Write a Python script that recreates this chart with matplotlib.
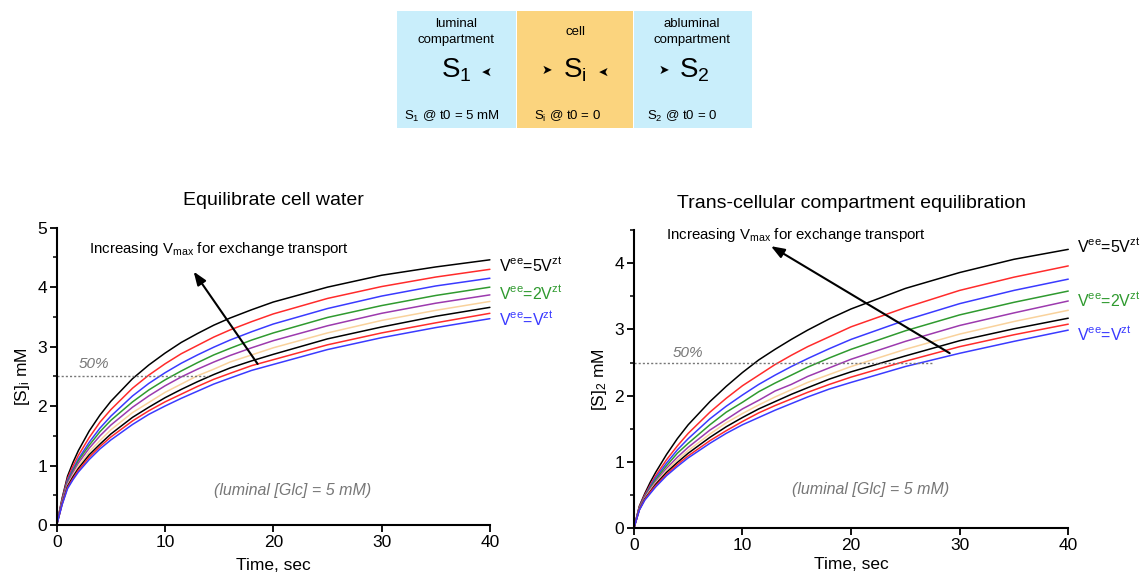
import matplotlib

matplotlib.use("Agg")
import matplotlib.pyplot as plt
from matplotlib.patches import Rectangle

plt.rcParams["font.family"] = ["Liberation Sans", "DejaVu Sans"]
plt.rcParams["mathtext.fontset"] = "custom"
plt.rcParams["mathtext.rm"] = "Liberation Sans"
plt.rcParams["mathtext.it"] = "Liberation Sans:italic"

# time points (sec)
time_s = [0, 0.5, 1, 1.5, 2, 3, 4, 5, 7, 8.5, 10, 11.5, 13, 14.5, 16, 18, 20, 25, 30, 35, 40]

# left panel: [S]i (mM), curves listed top to bottom
cell_curves = [
    [0, 0.45, 0.82, 1.05, 1.25, 1.58, 1.85, 2.08, 2.46, 2.69, 2.89, 3.07, 3.22, 3.36, 3.48, 3.62, 3.75, 4.00, 4.20, 4.34, 4.46],
    [0, 0.43, 0.78, 0.99, 1.17, 1.47, 1.73, 1.94, 2.30, 2.52, 2.71, 2.88, 3.02, 3.16, 3.28, 3.42, 3.55, 3.81, 4.01, 4.17, 4.30],
    [0, 0.41, 0.75, 0.94, 1.11, 1.39, 1.63, 1.83, 2.17, 2.38, 2.56, 2.72, 2.86, 2.99, 3.11, 3.25, 3.38, 3.64, 3.85, 4.02, 4.15],
    [0, 0.40, 0.72, 0.91, 1.08, 1.34, 1.57, 1.76, 2.07, 2.27, 2.44, 2.59, 2.73, 2.86, 2.97, 3.11, 3.23, 3.49, 3.69, 3.86, 4.00],
    [0, 0.39, 0.70, 0.88, 1.04, 1.29, 1.50, 1.68, 1.98, 2.17, 2.34, 2.49, 2.62, 2.74, 2.85, 2.98, 3.10, 3.35, 3.56, 3.73, 3.87],
    [0, 0.37, 0.67, 0.84, 0.99, 1.23, 1.42, 1.60, 1.89, 2.06, 2.23, 2.37, 2.51, 2.62, 2.74, 2.86, 2.98, 3.23, 3.44, 3.61, 3.76],
    [0, 0.36, 0.65, 0.81, 0.95, 1.18, 1.36, 1.53, 1.81, 1.98, 2.14, 2.28, 2.41, 2.53, 2.64, 2.76, 2.87, 3.13, 3.33, 3.51, 3.66],
    [0, 0.35, 0.63, 0.78, 0.92, 1.14, 1.32, 1.48, 1.75, 1.92, 2.07, 2.20, 2.33, 2.45, 2.55, 2.68, 2.78, 3.03, 3.23, 3.40, 3.56],
    [0, 0.34, 0.61, 0.76, 0.89, 1.10, 1.28, 1.43, 1.69, 1.86, 2.00, 2.13, 2.25, 2.37, 2.47, 2.60, 2.70, 2.95, 3.15, 3.32, 3.47],
]

# right panel: [S]2 (mM), curves listed top to bottom
trans_curves = [
    [0, 0.33, 0.52, 0.69, 0.84, 1.11, 1.35, 1.56, 1.91, 2.14, 2.35, 2.54, 2.70, 2.85, 2.99, 3.16, 3.31, 3.62, 3.86, 4.06, 4.21],
    [0, 0.32, 0.50, 0.65, 0.79, 1.03, 1.24, 1.43, 1.75, 1.96, 2.15, 2.31, 2.47, 2.61, 2.74, 2.89, 3.04, 3.33, 3.59, 3.79, 3.96],
    [0, 0.31, 0.48, 0.63, 0.76, 0.98, 1.18, 1.35, 1.65, 1.84, 2.01, 2.17, 2.31, 2.44, 2.56, 2.71, 2.85, 3.14, 3.39, 3.59, 3.76],
    [0, 0.30, 0.47, 0.61, 0.73, 0.94, 1.13, 1.28, 1.56, 1.75, 1.90, 2.06, 2.19, 2.31, 2.43, 2.57, 2.70, 2.98, 3.22, 3.41, 3.58],
    [0, 0.29, 0.46, 0.59, 0.70, 0.90, 1.07, 1.22, 1.48, 1.64, 1.80, 1.93, 2.07, 2.17, 2.29, 2.42, 2.55, 2.82, 3.06, 3.25, 3.43],
    [0, 0.285, 0.45, 0.57, 0.68, 0.87, 1.03, 1.17, 1.42, 1.59, 1.73, 1.86, 1.98, 2.09, 2.20, 2.32, 2.44, 2.70, 2.93, 3.12, 3.29],
    [0, 0.28, 0.44, 0.55, 0.66, 0.84, 0.99, 1.13, 1.37, 1.53, 1.67, 1.80, 1.91, 2.02, 2.12, 2.25, 2.36, 2.60, 2.83, 3.01, 3.17],
    [0, 0.275, 0.43, 0.54, 0.64, 0.81, 0.96, 1.09, 1.32, 1.47, 1.61, 1.74, 1.85, 1.95, 2.05, 2.17, 2.28, 2.52, 2.74, 2.92, 3.08],
    [0, 0.27, 0.42, 0.52, 0.62, 0.79, 0.93, 1.06, 1.28, 1.43, 1.56, 1.67, 1.78, 1.88, 1.98, 2.10, 2.20, 2.44, 2.64, 2.82, 2.99],
]

curve_colors = ["black", "#ff2b2b", "#3a3aff", "#2f9a2f", "#9c3aae", "#f9d29c", "black", "#ff2b2b", "#3a3aff"]

vee_labels = [r"V$^\mathrm{ee}$=5V$^\mathrm{zt}$", r"V$^\mathrm{ee}$=2V$^\mathrm{zt}$", r"V$^\mathrm{ee}$=V$^\mathrm{zt}$"]
vee_colors = ["black", "#2f9a2f", "#3a3aff"]


def draw_panel(ax, curves, ymax, yticks, ylabel, title, label_y, half_end, arrow_tail, arrow_head,
               text_pos, fifty_pos, xlabel_pad):
    for values, color in zip(curves, curve_colors):
        ax.plot(time_s, values, color=color, lw=1.1, solid_capstyle="round", solid_joinstyle="round", clip_on=False)

    ax.plot([0, half_end], [2.5, 2.5], color="#777777", lw=1.0, ls=(0, (1.5, 1.5)))
    ax.text(fifty_pos[0], fifty_pos[1], "50%", color="#777777", style="italic", fontsize=11, ha="center", va="center")

    ax.set_xlim(0, 40)
    ax.set_ylim(0, ymax)
    ax.set_xticks([0, 10, 20, 30, 40])
    ax.set_yticks(yticks)
    ax.set_yticks([y + 0.5 for y in yticks if y + 0.5 <= ymax], minor=True)
    for side in ("top", "right"):
        ax.spines[side].set_visible(False)
    for side in ("left", "bottom"):
        ax.spines[side].set_linewidth(1.5)
    ax.tick_params(axis="both", which="major", labelsize=12.5, length=5, width=1.3, pad=2)
    ax.tick_params(axis="y", which="minor", length=3, width=1.1)
    ax.set_xlabel("Time, sec", fontsize=12.5, labelpad=xlabel_pad)
    ax.set_ylabel(ylabel, fontsize=12.5, labelpad=4)
    ax.set_title(title, fontsize=14, pad=16)

    ax.annotate(
        "", xy=arrow_head, xytext=arrow_tail,
        arrowprops=dict(arrowstyle="-|>,head_length=0.8,head_width=0.3", color="black", lw=1.5),
    )
    ax.text(text_pos[0], text_pos[1], r"Increasing V$_{\mathrm{max}}$ for exchange transport",
            fontsize=10.8, ha="left", va="center")
    ax.text(21.8, 0.58, "(luminal [Glc] = 5 mM)", color="#777777", style="italic",
            fontsize=11.5, ha="center", va="center")

    for lab, col, yv in zip(vee_labels, vee_colors, label_y):
        ax.text(40.8, yv, lab, color=col, fontsize=11.5, ha="left", va="center", clip_on=False)


def draw_compartments(fig):
    ax = fig.add_axes([0, 0, 1, 1])
    ax.set_xlim(0, 1143)
    ax.set_ylim(575, 0)
    ax.axis("off")

    boxes = [(397, 516, "#c9eefb"), (517, 633, "#fbd47e"), (634, 752, "#c9eefb")]
    for x0, x1, col in boxes:
        ax.add_patch(Rectangle((x0, 11), x1 - x0, 117, facecolor=col, edgecolor="none"))

    ax.text(456, 32, "luminal\ncompartment", fontsize=9.5, ha="center", va="center", linespacing=1.35)
    ax.text(575, 32, "cell", fontsize=9.5, ha="center", va="center")
    ax.text(692, 32, "abluminal\ncompartment", fontsize=9.5, ha="center", va="center", linespacing=1.35)

    ax.text(456, 70, r"S$_\mathrm{1}$", fontsize=20, ha="center", va="center")
    ax.text(575, 70, r"S$_\mathrm{i}$", fontsize=20, ha="center", va="center")
    ax.text(694, 70, r"S$_\mathrm{2}$", fontsize=20, ha="center", va="center")

    for x, rot in [(484, 180), (547, 0), (601, 180), (664, 0)]:
        ax.text(x, 70, "\u27a4", family="DejaVu Sans", fontsize=9, rotation=rot,
                ha="center", va="center")

    ax.text(452, 116, r"S$_\mathrm{1}$ @ t0 = 5 mM", fontsize=9.5, ha="center", va="center")
    ax.text(568, 116, r"S$_\mathrm{i}$ @ t0 = 0", fontsize=9.5, ha="center", va="center")
    ax.text(682, 116, r"S$_\mathrm{2}$ @ t0 = 0", fontsize=9.5, ha="center", va="center")


def main() -> None:
    fig = plt.figure(figsize=(11.43, 5.75), dpi=100)
    fig.patch.set_facecolor("white")

    draw_compartments(fig)

    ax_left = fig.add_axes([0.0496, 0.087, 0.379, 0.517])
    draw_panel(
        ax_left, cell_curves, 5, [0, 1, 2, 3, 4, 5], r"[S]$_\mathrm{i}$ mM", "Equilibrate cell water",
        label_y=[4.37, 3.90, 3.46], half_end=14.0,
        arrow_tail=(18.7, 2.67), arrow_head=(12.5, 4.3), text_pos=(3.0, 4.65), fifty_pos=(3.4, 2.7),
        xlabel_pad=6,
    )

    ax_right = fig.add_axes([0.5546, 0.0817, 0.380, 0.518])
    draw_panel(
        ax_right, trans_curves, 4.5, [0, 1, 2, 3, 4], r"[S]$_\mathrm{2}$ mM", "Trans-cellular compartment equilibration",
        label_y=[4.26, 3.44, 2.93], half_end=27.5,
        arrow_tail=(29.3, 2.62), arrow_head=(12.4, 4.28), text_pos=(3.0, 4.42), fifty_pos=(5.0, 2.65),
        xlabel_pad=3,
    )

    fig.savefig("out.png", dpi=100, facecolor="white")


if __name__ == "__main__":
    main()
